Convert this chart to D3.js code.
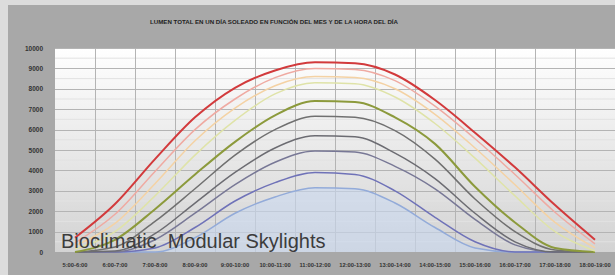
<!DOCTYPE html>
<html>
<head>
<meta charset="utf-8">
<script src="https://d3js.org/d3.v7.min.js"></script>
<style>
  body { margin: 0; background: #dcdcdc; }
  svg text { font-family: 'Liberation Sans', Arial, sans-serif; }
</style>
</head>
<body>
<script>
// franjas horarias
var horas = ["5:00-6:00", "6:00-7:00", "7:00-8:00", "8:00-9:00", "9:00-10:00", "10:00-11:00", "11:00-12:00",
             "12:00-13:00", "13:00-14:00", "14:00-15:00", "15:00-16:00", "16:00-17:00", "17:00-18:00", "18:00-19:00"];
var yTicks = [0, 1000, 2000, 3000, 4000, 5000, 6000, 7000, 8000, 9000, 10000];

// lumen por mes
var junio      = [700, 2350, 4550, 6600, 8050, 8900, 9300, 9250, 8700, 7450, 5850, 4150, 2300, 600];
var julio      = [450, 1850, 3950, 6000, 7500, 8550, 9000, 8950, 8400, 7150, 5550, 3800, 1950, 400];
var mayo       = [300, 1400, 3350, 5450, 7050, 8150, 8600, 8550, 8000, 6750, 5100, 3300, 1450, 200];
var agosto     = [150, 1000, 2750, 4750, 6450, 7750, 8300, 8250, 7600, 6300, 4600, 2750, 1000, 50];
var abril      = [0, 600, 2100, 3800, 5400, 6700, 7400, 7350, 6600, 5300, 3200, 1450, 200, 0];
var septiembre = [0, 250, 1500, 3100, 4750, 6000, 6650, 6600, 5950, 4550, 2600, 1000, 100, 0];
var marzo      = [0, 50, 900, 2400, 3900, 5100, 5700, 5650, 4850, 3600, 1900, 500, 0, 0];
var octubre    = [0, 0, 600, 1900, 3300, 4400, 4950, 4900, 4200, 3100, 1600, 350, 0, 0];
var febrero    = [0, 0, 200, 1200, 2500, 3400, 3900, 3800, 3000, 1700, 500, 0, 0, 0];
var diciembre  = [0, 0, 0, 700, 1900, 2700, 3150, 3100, 2400, 1200, 200, 0, 0, 0];

var series = [
  { name: "Diciembre", values: diciembre, color: "#93abd9", w: 1.5, area: true },
  { name: "Febrero", values: febrero, color: "#6f72b8", w: 1.5 },
  { name: "Octubre", values: octubre, color: "#787896", w: 1.5 },
  { name: "Marzo", values: marzo, color: "#6c6c72", w: 1.5 },
  { name: "Septiembre", values: septiembre, color: "#707070", w: 1.5 },
  { name: "Abril", values: abril, color: "#8c9a3c", w: 2 },
  { name: "Agosto", values: agosto, color: "#dfe3a8", w: 1.5 },
  { name: "Mayo", values: mayo, color: "#f4d2a4", w: 1.5 },
  { name: "Julio", values: julio, color: "#efaaa2", w: 1.5 },
  { name: "Junio", values: junio, color: "#d23a3c", w: 2 }
];

var W = 615, H = 275;
var pLeft = 55, pRight = 615, pTop = 48, pBottom = 252;

var svg = d3.select("body").append("svg")
  .attr("width", W)
  .attr("height", H);

var defs = svg.append("defs");
var grad = defs.append("linearGradient")
  .attr("id", "plotbg")
  .attr("x1", 0).attr("y1", 0).attr("x2", 0).attr("y2", 1);
grad.append("stop").attr("offset", "0%").attr("stop-color", "#ffffff");
grad.append("stop").attr("offset", "100%").attr("stop-color", "#d3d3d3");

// marco gris
svg.append("rect")
  .attr("x", 8).attr("y", 5)
  .attr("width", W - 8).attr("height", H - 5)
  .attr("fill", "#a8a8a8");

svg.append("rect")
  .attr("x", pLeft).attr("y", pTop)
  .attr("width", pRight - pLeft).attr("height", pBottom - pTop)
  .attr("fill", "url(#plotbg)");

var x = d3.scaleBand().domain(horas).range([pLeft, pRight]);
var y = d3.scaleLinear().domain([0, 10000]).range([pBottom, pTop]);

// rejilla secundaria
svg.append("g")
  .selectAll("line")
  .data(yTicks.slice(0, -1))
  .enter()
  .append("line")
  .attr("x1", pLeft).attr("x2", pRight)
  .attr("y1", function(d) { return y(d + 500); })
  .attr("y2", function(d) { return y(d + 500); })
  .attr("stroke", "#e2e2e2")
  .attr("stroke-width", 1);

// rejilla principal
svg.append("g")
  .selectAll("line")
  .data(yTicks.slice(1))
  .enter()
  .append("line")
  .attr("x1", pLeft).attr("x2", pRight)
  .attr("y1", function(d) { return Math.round(y(d)) + 0.5; })
  .attr("y2", function(d) { return Math.round(y(d)) + 0.5; })
  .attr("stroke", "#b4b4b4")
  .attr("stroke-width", 1);

svg.append("g")
  .selectAll("line")
  .data(horas.slice(1))
  .enter()
  .append("line")
  .attr("x1", function(d) { return Math.round(x(d)) + 0.5; })
  .attr("x2", function(d) { return Math.round(x(d)) + 0.5; })
  .attr("y1", pTop).attr("y2", pBottom)
  .attr("stroke", "#b4b4b4")
  .attr("stroke-width", 1);

var cx = function(d, i) { return x(horas[i]) + x.bandwidth() / 2; };

var line = d3.line()
  .x(cx)
  .y(function(d) { return y(d); })
  .curve(d3.curveMonotoneX);

var area = d3.area()
  .x(cx)
  .y0(pBottom)
  .y1(function(d) { return y(d); })
  .curve(d3.curveMonotoneX);

series.forEach(function(s) {
  if (s.area) {
    svg.append("path")
      .datum(s.values)
      .attr("d", area)
      .attr("fill", "#cad8f0")
      .attr("opacity", 0.6);
  }
  svg.append("path")
    .datum(s.values)
    .attr("d", line)
    .attr("fill", "none")
    .attr("stroke", s.color)
    .attr("stroke-width", s.w);
});

// ejes
var yAxis = svg.append("g")
  .attr("transform", "translate(" + (pLeft - 9) + ",0)")
  .call(d3.axisLeft(y).tickValues(yTicks).tickSize(0).tickFormat(d3.format("d")));
yAxis.select(".domain").remove();
yAxis.selectAll("text")
  .attr("font-size", 6.5)
  .attr("font-weight", "bold")
  .attr("fill", "#333")
  .attr("font-family", "'Liberation Sans', Arial, sans-serif");

var xAxis = svg.append("g")
  .attr("transform", "translate(0," + (pBottom + 8) + ")")
  .call(d3.axisBottom(x).tickSize(0));
xAxis.select(".domain").remove();
xAxis.selectAll("text")
  .attr("font-size", 5.8)
  .attr("font-weight", "bold")
  .attr("fill", "#333")
  .attr("font-family", "'Liberation Sans', Arial, sans-serif");

// titulo
svg.append("text")
  .attr("x", 274)
  .attr("y", 24)
  .attr("text-anchor", "middle")
  .attr("font-size", 6)
  .attr("font-weight", "bold")
  .attr("fill", "#1e1e1e")
  .attr("textLength", 248)
  .attr("lengthAdjust", "spacingAndGlyphs")
  .text("LUMEN TOTAL EN UN DÍA SOLEADO EN FUNCIÓN DEL MES Y DE LA HORA DEL DÍA");

// marca
svg.append("text")
  .attr("x", 61)
  .attr("y", 248)
  .attr("font-size", 20)
  .attr("fill", "#3c3c3c")
  .attr("xml:space", "preserve")
  .style("white-space", "pre")
  .text("Bioclimatic  Modular Skylights");
</script>
</body>
</html>
